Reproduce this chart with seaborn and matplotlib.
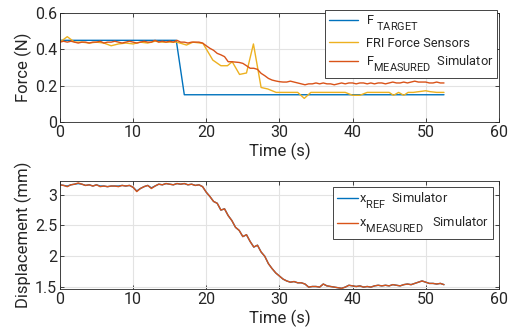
import numpy as np
import pandas as pd
import matplotlib
matplotlib.use("Agg")
import matplotlib.pyplot as plt
import matplotlib._mathtext as _mt
import seaborn as sns

# ---------------- data ----------------
t_target = [0, 15.9, 17.0, 52.5]
f_target = [0.45, 0.45, 0.15, 0.15]

t_fri = [0, 0.5, 1.0, 1.5, 2, 3, 4, 5, 6, 7, 8, 9, 10, 11, 12, 13, 14, 15, 16,
         17.3, 18.2, 19.55, 20.9, 22.0, 22.9, 23.55, 24.55, 25.5, 26.45, 27.5,
         28.4, 29.55, 31, 32.5, 33.4, 34.3, 35, 37, 39, 40, 41, 42, 43, 45,
         45.6, 46.3, 47, 47.6, 48.3, 50, 50.6, 51.5, 52.5]
f_fri = [0.44, 0.455, 0.47, 0.455, 0.44, 0.44, 0.435, 0.44, 0.435, 0.42, 0.43,
         0.435, 0.43, 0.44, 0.435, 0.445, 0.44, 0.44, 0.44,
         0.424, 0.44, 0.433, 0.341, 0.31, 0.31, 0.332, 0.262, 0.27, 0.43, 0.19,
         0.182, 0.163, 0.163, 0.163, 0.13, 0.163, 0.163, 0.163, 0.163, 0.147,
         0.147, 0.163, 0.163, 0.163, 0.147, 0.163, 0.147, 0.163, 0.163, 0.172,
         0.167, 0.163, 0.163]

t_sim = np.arange(0, 53.0, 0.5)
f_measured = [0.44, 0.445, 0.44, 0.445, 0.44, 0.435, 0.44, 0.44, 0.435, 0.44,
              0.44, 0.445, 0.435, 0.44, 0.44, 0.445, 0.44, 0.435, 0.44, 0.445,
              0.44, 0.435, 0.44, 0.445, 0.44, 0.44, 0.45, 0.44, 0.445, 0.44,
              0.445, 0.44, 0.45, 0.44, 0.44, 0.435, 0.44, 0.44, 0.44, 0.435,
              0.42, 0.406, 0.395, 0.378, 0.37, 0.36, 0.332, 0.332, 0.33, 0.328,
              0.323, 0.31, 0.296, 0.296, 0.29, 0.268, 0.255, 0.24, 0.231, 0.226,
              0.222, 0.22, 0.22, 0.225, 0.22, 0.215, 0.21, 0.205, 0.21, 0.21,
              0.215, 0.21, 0.215, 0.21, 0.21, 0.205, 0.21, 0.215, 0.21, 0.215,
              0.215, 0.21, 0.215, 0.215, 0.21, 0.215, 0.21, 0.215, 0.215, 0.21,
              0.215, 0.22, 0.215, 0.215, 0.22, 0.215, 0.22, 0.225, 0.22, 0.22,
              0.22, 0.215, 0.215, 0.22, 0.215, 0.215]

x_measured = [3.16, 3.15, 3.13, 3.16, 3.17, 3.19, 3.17, 3.15, 3.16, 3.14,
              3.16, 3.13, 3.14, 3.13, 3.14, 3.14, 3.13, 3.15, 3.14, 3.15,
              3.12, 3.05, 3.10, 3.13, 3.15, 3.10, 3.14, 3.17, 3.16, 3.18,
              3.17, 3.16, 3.18, 3.17, 3.18, 3.16, 3.17, 3.15, 3.16, 3.13,
              3.04, 2.97, 2.89, 2.86, 2.75, 2.77, 2.66, 2.58, 2.47, 2.42,
              2.32, 2.35, 2.24, 2.15, 2.18, 2.07, 2.00, 1.88, 1.80, 1.73,
              1.68, 1.63, 1.60, 1.58, 1.59, 1.57, 1.57, 1.55, 1.50, 1.51,
              1.51, 1.50, 1.55, 1.52, 1.51, 1.50, 1.49, 1.48, 1.50, 1.53,
              1.52, 1.51, 1.52, 1.50, 1.51, 1.50, 1.52, 1.53, 1.52, 1.53,
              1.52, 1.54, 1.53, 1.52, 1.54, 1.55, 1.54, 1.56, 1.58, 1.60,
              1.58, 1.56, 1.56, 1.55, 1.56, 1.54]
x_ref = [3.16, 3.15, 3.14, 3.16, 3.17, 3.18, 3.17, 3.15, 3.16, 3.14,
         3.16, 3.14, 3.14, 3.13, 3.14, 3.14, 3.14, 3.15, 3.14, 3.15,
         3.12, 3.06, 3.10, 3.13, 3.15, 3.11, 3.14, 3.17, 3.16, 3.18,
         3.17, 3.16, 3.18, 3.17, 3.18, 3.16, 3.17, 3.15, 3.16, 3.13,
         3.04, 2.97, 2.89, 2.86, 2.75, 2.77, 2.66, 2.58, 2.47, 2.42,
         2.32, 2.35, 2.24, 2.15, 2.18, 2.07, 2.00, 1.88, 1.80, 1.73,
         1.68, 1.63, 1.60, 1.58, 1.59, 1.57, 1.57, 1.55, 1.50, 1.51,
         1.51, 1.50, 1.55, 1.52, 1.51, 1.50, 1.49, 1.48, 1.50, 1.53,
         1.52, 1.51, 1.52, 1.50, 1.51, 1.50, 1.52, 1.53, 1.52, 1.53,
         1.52, 1.54, 1.53, 1.52, 1.54, 1.55, 1.54, 1.56, 1.58, 1.60,
         1.58, 1.56, 1.56, 1.55, 1.56, 1.54]

x_ticks = [0, 10, 20, 30, 40, 50, 60]
f_ticks = [0, 0.2, 0.4, 0.6]
d_ticks = [1.5, 2, 2.5, 3]

BLUE = "#0072BD"
ORANGE = "#D95319"
YELLOW = "#EDB120"
AX = "#262626"

# ---------------- style ----------------
sns.set_theme(style="whitegrid")
FONT = "Roboto"
plt.rcParams["font.family"] = [FONT, "DejaVu Sans"]
plt.rcParams["mathtext.fontset"] = "custom"
plt.rcParams["mathtext.rm"] = FONT
plt.rcParams["mathtext.it"] = FONT
plt.rcParams["mathtext.bf"] = FONT
_mt.SHRINK_FACTOR = 0.85          # MATLAB-like larger subscripts
_mt.FontConstantsBase.sub1 = 0.9   # deeper subscript drop
_mt.FontConstantsBase.subdrop = 0.6

fig = plt.figure(figsize=(5.08, 3.36), dpi=100)
ax1 = fig.add_axes([0.118, 0.637, 0.864, 0.324])
ax2 = fig.add_axes([0.118, 0.140, 0.864, 0.321])

TICK_FS = 11.5
LABEL_FS = 12
LEG_FS = 9.3

def style_axes(ax):
    ax.set_facecolor("white")
    ax.grid(True, color="#E3E3E3", linewidth=0.8)
    for s in ax.spines.values():
        s.set_visible(True)
        s.set_color(AX)
        s.set_linewidth(0.6)
    ax.tick_params(direction="in", length=3, width=0.6, color=AX,
                   labelsize=TICK_FS, labelcolor=AX, top=True, right=True,
                   bottom=True, left=True, pad=2)
    ax.set_xlim(0, 60)
    ax.set_xticks(x_ticks)
    ax.set_xticklabels([str(v) for v in x_ticks])

# top plot
sns.lineplot(x=t_target, y=f_target, ax=ax1, color=BLUE, lw=1.0,
             label=r"F $_{\mathrm{TARGET}}$", estimator=None, sort=False)
sns.lineplot(x=t_fri, y=f_fri, ax=ax1, color=YELLOW, lw=1.0,
             label="FRI Force Sensors", estimator=None, sort=False)
sns.lineplot(x=t_sim, y=f_measured, ax=ax1, color=ORANGE, lw=1.0,
             label=r"F$_{\mathrm{MEASURED}}$  Simulator", estimator=None, sort=False)
style_axes(ax1)
ax1.set_ylim(0, 0.6)
ax1.set_yticks(f_ticks)
ax1.set_yticklabels(["0", "0.2", "0.4", "0.6"])
ax1.set_xlabel("Time (s)", fontsize=LABEL_FS, color=AX, labelpad=2)
ax1.set_ylabel("Force (N)", fontsize=LABEL_FS, color=AX, labelpad=2)
leg1 = ax1.legend(loc="upper right", bbox_to_anchor=(0.996, 1.03), fontsize=LEG_FS,
                  frameon=True, fancybox=False, edgecolor=AX, framealpha=1,
                  handlelength=2.2, handletextpad=0.6, borderpad=0.3,
                  labelspacing=0.3, borderaxespad=0)
leg1.get_frame().set_linewidth(0.6)

# bottom plot
sns.lineplot(x=t_sim, y=x_ref, ax=ax2, color=BLUE, lw=1.0,
             label=r"x$_{\mathrm{REF}}$  Simulator", estimator=None, sort=False)
sns.lineplot(x=t_sim, y=x_measured, ax=ax2, color=ORANGE, lw=1.0,
             label=r"x$_{\mathrm{MEASURED}}$   Simulator", estimator=None, sort=False)
style_axes(ax2)
ax2.set_ylim(1.47, 3.22)
ax2.set_yticks(d_ticks)
ax2.set_yticklabels(["1.5", "2", "2.5", "3"])
ax2.set_xlabel("Time (s)", fontsize=LABEL_FS, color=AX, labelpad=2)
ax2.set_ylabel("Displacement (mm)", fontsize=LABEL_FS, color=AX, labelpad=2)
leg2 = ax2.legend(loc="upper right", bbox_to_anchor=(0.987, 0.944), fontsize=LEG_FS,
                  frameon=True, fancybox=False, edgecolor=AX, framealpha=1,
                  handlelength=1.6, handletextpad=0.1, borderpad=0.3,
                  labelspacing=0.3, borderaxespad=0)
leg2.get_frame().set_linewidth(0.6)

fig.savefig("out.png", dpi=100, facecolor="white")
